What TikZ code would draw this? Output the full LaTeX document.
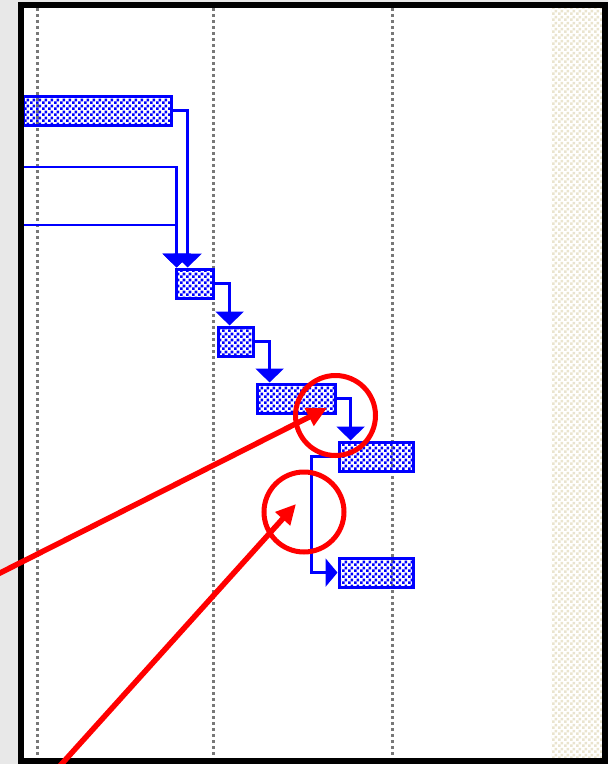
\documentclass[tikz,border=0pt]{standalone}
\usepackage{tikz}
\usetikzlibrary{arrows.meta,positioning,patterns.meta}
\definecolor{bggray}{RGB}{232,232,232}
\definecolor{dotgray}{RGB}{120,120,120}
\definecolor{sand}{RGB}{234,228,206}
\tikzdeclarepattern{
  name=checker,
  type=uncolored,
  bounding box={(0pt,0pt) and (6pt,6pt)},
  tile size={(6pt,6pt)},
  code={
    \fill (0pt,0pt) rectangle (3pt,3pt);
    \fill (3pt,3pt) rectangle (6pt,6pt);
  }
}

\begin{document}
\begin{tikzpicture}[x=1pt,y=-1pt,
  bar/.style={draw=blue,line width=3.2pt,pattern=checker,pattern color=blue,
    inner sep=0pt,minimum height=29pt,anchor=north west},
  link/.style={draw=blue,line width=2.8pt,-{Triangle[width=28pt,length=14pt]}},
  ring/.style={circle,draw=red,line width=5pt,minimum size=80pt,inner sep=0pt},
  pointer/.style={draw=red,line width=5.5pt,-{Triangle[width=19pt,length=20pt]}}]
  \useasboundingbox (0,0) rectangle (608,764);
  \fill[bggray] (0,0) rectangle (608,764); % 外側の灰色の背景
  \fill[white] (24,8) rectangle (602,758); % 図の白い領域
  \fill[pattern=checker,pattern color=sand] (551,8) rectangle (602,758); % 右端の休日の帯
  \foreach \gx in {37,213,392}
    \draw[dotgray,line width=3pt,dash pattern=on 3pt off 3pt] (\gx,8) -- (\gx,758); % 目盛りの点線

  \node[bar,minimum width=148pt] (bar1) at (22,94.5) {}; % 先頭のタスク
  \node[bar,minimum width=37pt] (bar2) at (174.5,267.5) {};
  \node[bar,minimum width=35pt] (bar3) at (216.5,325.5) {};
  \node[bar,minimum width=78pt] (bar4) at (255.5,382.5) {};
  \node[bar,minimum width=74pt] (bar5) at (337.5,440.5) {};
  \node[bar,minimum width=74pt] (bar6) at (337.5,556.5) {}; % 最後のタスク
  \coordinate (in2) at (20,167); % 左の画面外から来る依存線
  \coordinate (in3) at (20,225);

  \draw[link] (in2) -| ([xshift=-18pt]bar2.north); % 画面外のタスクからの依存
  \draw[link] (in3) -| ([xshift=-18pt]bar2.north);
  \draw[link] (bar1.east) -| ([xshift=-7pt]bar2.north);
  \draw[link] (bar2.east) -| ([xshift=-6pt]bar3.north);
  \draw[link] (bar3.east) -| ([xshift=-26.5pt]bar4.north);
  \draw[link] (bar4.east) -| ([xshift=-25.5pt]bar5.north);
  \draw[link,-{Triangle[width=28pt,length=12pt]}]
    (bar5.west) -- ++(-26,0) |- (bar6.west); % 開始同士の依存

  \draw[line width=6pt] (21,5) rectangle (605,761); % 黒い枠

  \node[ring] (ring1) at (335.5,415.5) {}; % 赤い丸（上）
  \node[ring] (ring2) at (304,512) {}; % 赤い丸（下）
  \coordinate (from1) at (-4,575);
  \coordinate (tip1) at (327,408);
  \coordinate (from2) at (58,768);
  \coordinate (tip2) at (296,504);
  \draw[pointer] (from1) -- (tip1); % 赤い矢印
  \draw[pointer] (from2) -- (tip2);
\end{tikzpicture}
\end{document}
